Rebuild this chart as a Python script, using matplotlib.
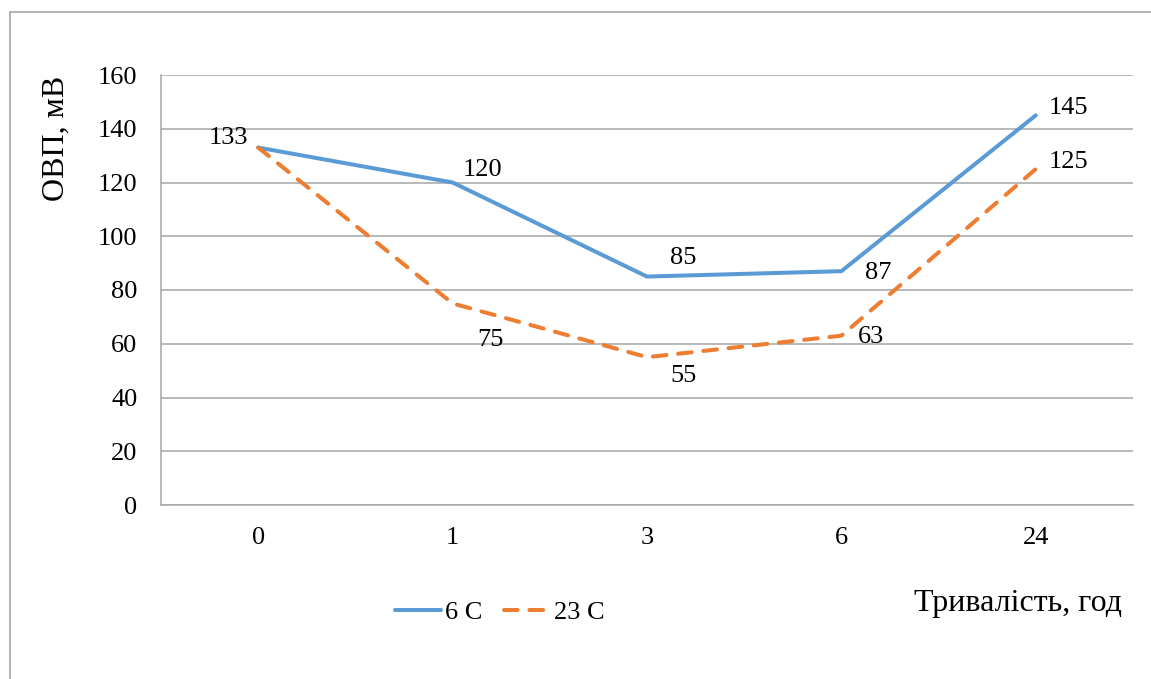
import matplotlib
matplotlib.use("Agg")
import matplotlib.pyplot as plt
from matplotlib.patches import Rectangle

hours = ["0", "1", "3", "6", "24"]
orp_6c = [133, 120, 85, 87, 145]
orp_23c = [133, 75, 55, 63, 125]
yticks = [0, 20, 40, 60, 80, 100, 120, 140, 160]

# label offsets in pixels, one per point (None = no label)
off_6c = [(-30, 10), (30, 12), (36, 19), (37, -2), (33, 7)]
off_23c = [None, (38, -37), (36, -19), (30, -1), (33, 7)]

BLUE = "#5B9BD5"
ORANGE = "#ED7D31"
GRID = "#A6A6A6"
FS = 19
plt.rcParams["font.family"] = ["Liberation Serif", "DejaVu Serif"]

fig = plt.figure(figsize=(11.51, 6.79), dpi=100)
fig.patches.append(Rectangle((10 / 1151, -0.1), 1.2, 1.1 - 12 / 679, transform=fig.transFigure,
                             fill=False, edgecolor=GRID, lw=1.2))
ax = fig.add_axes([161 / 1151, 174 / 679, 972 / 1151, 430 / 679])

x = list(range(len(hours)))
ax.plot(x, orp_6c, color=BLUE, lw=2.9, solid_capstyle="round", solid_joinstyle="round",
        label="6 C", zorder=3)
ax.plot(x, orp_23c, color=ORANGE, lw=2.9, dashes=(3.4, 2.9), dash_capstyle="round",
        label="23 C", zorder=3)

for xi, v, o in zip(x, orp_6c, off_6c):
    if o:
        ax.annotate(str(v), (xi, v), xytext=o, textcoords="offset pixels",
                    ha="center", va="center", fontsize=FS)
for xi, v, o in zip(x, orp_23c, off_23c):
    if o:
        ax.annotate(str(v), (xi, v), xytext=o, textcoords="offset pixels",
                    ha="center", va="center", fontsize=FS)

ax.set_xlim(-0.5, len(hours) - 0.5)
ax.set_ylim(0, 160)
ax.set_yticks(yticks)
ax.set_xticks(x)
ax.set_xticklabels(hours)
ax.tick_params(length=0, labelsize=FS)
ax.tick_params(axis="y", pad=17)
ax.tick_params(axis="x", pad=16)
ax.yaxis.grid(True, color=GRID, lw=1.1)
ax.set_axisbelow(True)
for s in ("top", "right"):
    ax.spines[s].set_visible(False)
for s in ("left", "bottom"):
    ax.spines[s].set_color(GRID)
    ax.spines[s].set_linewidth(1.1)

fig.text(56 / 1151, 1 - 138 / 679, "ОВП, мВ", fontsize=23, rotation=90, ha="center", va="center")
fig.text(1122 / 1151, 1 - 604 / 679, "Тривалість, год", fontsize=23, ha="right", va="center")

fig.legend(loc="center", bbox_to_anchor=(500 / 1151, 1 - 612 / 679), ncol=2, frameon=False,
           fontsize=FS, handlelength=1.75, handletextpad=0.15, columnspacing=0.8)

fig.savefig("out.png", dpi=100)
